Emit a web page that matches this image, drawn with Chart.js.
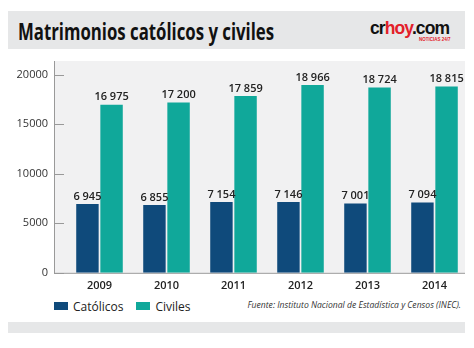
<!DOCTYPE html>
<html>
<head>
<meta charset="utf-8">
<script src="https://cdn.jsdelivr.net/npm/chart.js@4"></script>
<style>
  html, body { margin: 0; padding: 0; background: #fff; }
  #wrap { position: relative; width: 474px; height: 348px; overflow: hidden; font-family: 'Open Sans', sans-serif; }
  .band { position: absolute; left: 8px; width: 457px; background: #e6e7e8; }
  #title { position: absolute; left: 18px; top: 16px; font-size: 23px; font-weight: 700; color: #111;
           white-space: nowrap; transform-origin: 0 0; line-height: 30px; }
  #logo { position: absolute; left: 370px; top: 20px; font-family: 'Liberation Sans', Arial, sans-serif;
          font-weight: 700; font-size: 17.5px; letter-spacing: -0.9px; color: #111; line-height: 17px; }
  #logo .r { color: #e3202a; }
  #tag { position: absolute; left: 419px; top: 37px; font-family: 'Liberation Sans', sans-serif; font-weight: 700;
         font-size: 4.5px; color: #e3202a; }
  #legend { position: absolute; left: 54px; top: 298px; font-size: 12px; font-weight: 500; color: #222; white-space: nowrap; }
  #legend span.box { display: inline-block; width: 14px; height: 8px; vertical-align: 1px; margin-right: 5px; }
  #legend span.item { margin-right: 13px; }
  #source { position: absolute; right: 13px; top: 299px; font-size: 8.6px; font-style: italic; color: #333; white-space: nowrap; }
  canvas { position: absolute; left: 0; top: 0; }
</style>
</head>
<body>
<div id="wrap">
  <div class="band" style="top:11px;height:38px"></div>
  <div class="band" style="top:322px;height:11px"></div>
  <div id="title">Matrimonios católicos y civiles</div>
  <div id="logo">cr<span class="r">hoy</span>.com</div>
  <div id="tag">NOTICIAS 24/7</div>
  <div id="legend"></div>
  <div id="source">Fuente: Instituto Nacional de Estadística y Censos (INEC).</div>
  <canvas id="chart" width="474" height="348"></canvas>
</div>
<script>
const years = ['2009', '2010', '2011', '2012', '2013', '2014'];
const catolicos = [6945, 6855, 7154, 7146, 7001, 7094];
const civiles = [16975, 17200, 17859, 18966, 18724, 18815];
const yTicks = [0, 5000, 10000, 15000, 20000];

const COLORS = {
    catolicos: '#0f4a7b',
    civiles: '#10a89a',
    plotBg: '#f1f1f2',
    axis: '#999',
    text: '#222',
};

// squeeze the title to the condensed width of the original
const title = document.getElementById('title');
title.style.transform = 'scaleX(' + (256 / title.offsetWidth) + ')';

const fmt = v => String(v).replace(/\B(?=(\d{3})+(?!\d))/g, ' ');

// plot background + axis line + inward tick marks
const plotFrame = {
    id: 'plotFrame',
    beforeDraw(chart) {
        const { ctx, chartArea, scales } = chart;
        const left = 54, right = 465;
        ctx.save();
        ctx.fillStyle = COLORS.plotBg;
        ctx.fillRect(left, 61, right - left, chartArea.bottom - 61);
        ctx.strokeStyle = COLORS.axis;
        ctx.lineWidth = 1;
        ctx.beginPath();
        ctx.moveTo(left + 0.5, 61);
        ctx.lineTo(left + 0.5, chartArea.bottom + 0.5);
        ctx.lineTo(right, chartArea.bottom + 0.5);
        yTicks.forEach(t => {
            const y = Math.round(scales.y.getPixelForValue(t)) + 0.5;
            ctx.moveTo(left, y);
            ctx.lineTo(left + 10, y);
        });
        ctx.stroke();
        ctx.restore();
    },
};

// value labels above bars
const barLabels = {
    id: 'barLabels',
    afterDatasetsDraw(chart) {
        const { ctx } = chart;
        ctx.save();
        ctx.font = '600 11px "Open Sans"';
        ctx.fillStyle = COLORS.text;
        ctx.textAlign = 'center';
        ctx.textBaseline = 'bottom';
        chart.data.datasets.forEach((ds, i) => {
            chart.getDatasetMeta(i).data.forEach((bar, j) => {
                ctx.fillText(fmt(ds.data[j]), bar.x, bar.y - 2);
            });
        });
        ctx.restore();
    },
};

const chart = new Chart(document.getElementById('chart'), {
    type: 'bar',
    data: {
        labels: years,
        datasets: [
            {
                label: 'Católicos',
                data: catolicos,
                backgroundColor: COLORS.catolicos,
                categoryPercentage: 0.72,
                barPercentage: 0.93,
            },
            {
                label: 'Civiles',
                data: civiles,
                backgroundColor: COLORS.civiles,
                categoryPercentage: 0.72,
                barPercentage: 0.93,
            },
        ],
    },
    options: {
        responsive: false,
        animation: false,
        layout: { padding: { left: 10, right: 6, top: 61, bottom: 50 } },
        plugins: {
            legend: { display: false },
            tooltip: { enabled: false },
        },
        scales: {
            y: {
                min: 0,
                max: 21400,
                afterFit: scale => { scale.width = 56; },
                afterBuildTicks: scale => { scale.ticks = yTicks.map(v => ({ value: v })); },
                border: { display: false },
                grid: { display: false, drawTicks: false },
                ticks: {
                    padding: 18,
                    color: '#333',
                    font: { family: 'Open Sans', size: 11 },
                    callback: v => String(v),
                },
            },
            x: {
                border: { display: false },
                grid: { display: false, drawTicks: false },
                ticks: {
                    padding: 6,
                    color: COLORS.text,
                    font: { family: 'Open Sans', size: 11, weight: '600' },
                },
            },
        },
    },
    plugins: [plotFrame, barLabels],
});

// html legend built from the datasets
document.getElementById('legend').innerHTML = chart.data.datasets.map(ds =>
    '<span class="item"><span class="box" style="background:' + ds.backgroundColor + '"></span>' + ds.label + '</span>'
).join('');
</script>
</body>
</html>
